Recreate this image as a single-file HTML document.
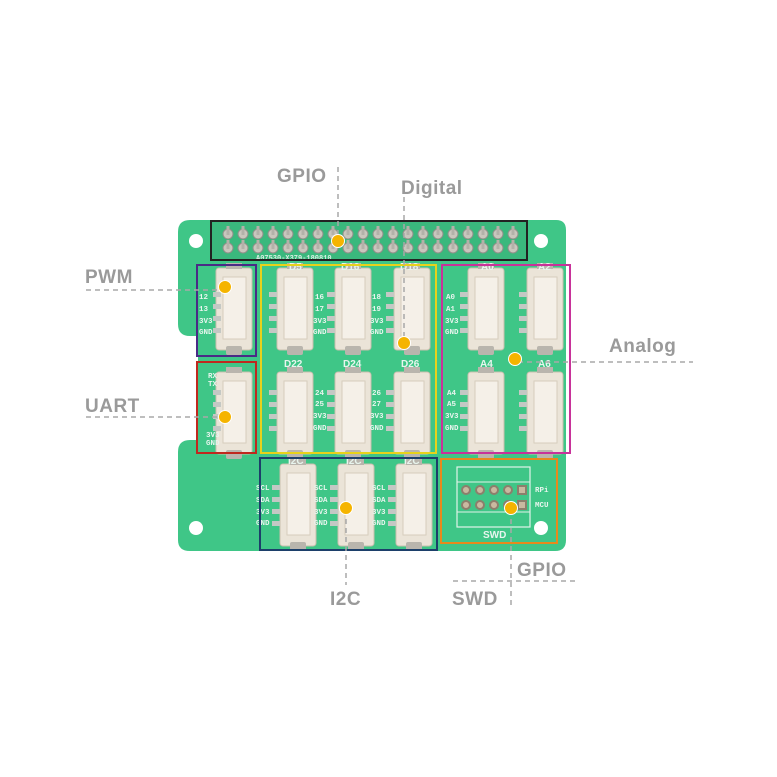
<!DOCTYPE html>
<html><head><meta charset="utf-8"><style>
html,body{margin:0;padding:0;background:#fff;}
svg{display:block}
.lb{font-family:"Liberation Sans",sans-serif;font-weight:bold;fill:#9a9a9a;font-size:19px;letter-spacing:0.5px}
.pt{font-family:"Liberation Mono",monospace;font-weight:bold;fill:#e8f5ee;font-size:7.5px}
.ct{font-family:"Liberation Sans",sans-serif;font-weight:bold;fill:#e8f5ee;font-size:10px}
.dl{stroke:#a8a8a8;stroke-width:1.5;stroke-dasharray:5,4;fill:none}
</style></head><body>
<svg width="777" height="777" viewBox="0 0 777 777">
<defs>
<g id="con">
<rect x="0" y="0" width="36" height="82" rx="3" fill="#ebe4d8" stroke="#c9bfae"/>
<rect x="7" y="9" width="23" height="62" fill="#f5f0e8" stroke="#d6cdbd"/>
<rect x="10" y="78" width="16" height="9" rx="2" fill="#b9b5ad"/>
<rect x="10" y="-5" width="16" height="6" fill="#b9b5ad"/>
</g>
<g id="pads">
<rect x="0" y="0" width="8" height="5" fill="#c4c8c4"/>
<rect x="0" y="12" width="8" height="5" fill="#c4c8c4"/>
<rect x="0" y="24" width="8" height="5" fill="#c4c8c4"/>
<rect x="0" y="36" width="8" height="5" fill="#c4c8c4"/>
</g>
<g id="pin"><circle cx="0" cy="0" r="5" fill="#c9c6bd" stroke="#8f8f88"/><rect x="-1.5" y="-8" width="3" height="9" fill="#b3b1a9"/></g>
</defs>
<path d="M190,220 H556 Q566,220 566,230 V540 Q566,551 555,551 H190 Q178,551 178,540 V452 Q178,440 190,440 H198 V336 H190 Q178,336 178,324 V232 Q178,220 190,220 Z" fill="#3fc687"/>
<g fill="#fff"><circle cx="196" cy="241" r="7"/><circle cx="541" cy="241" r="7"/><circle cx="196" cy="528" r="7"/><circle cx="541" cy="528" r="7"/></g>
<rect x="211" y="221" width="316" height="40" fill="#3ab87d"/>
<g>
<use href="#pin" x="228" y="234"/><use href="#pin" x="243" y="234"/><use href="#pin" x="258" y="234"/><use href="#pin" x="273" y="234"/><use href="#pin" x="288" y="234"/><use href="#pin" x="303" y="234"/><use href="#pin" x="318" y="234"/><use href="#pin" x="333" y="234"/><use href="#pin" x="348" y="234"/><use href="#pin" x="363" y="234"/><use href="#pin" x="378" y="234"/><use href="#pin" x="393" y="234"/><use href="#pin" x="408" y="234"/><use href="#pin" x="423" y="234"/><use href="#pin" x="438" y="234"/><use href="#pin" x="453" y="234"/><use href="#pin" x="468" y="234"/><use href="#pin" x="483" y="234"/><use href="#pin" x="498" y="234"/><use href="#pin" x="513" y="234"/>
<use href="#pin" x="228" y="248"/><use href="#pin" x="243" y="248"/><use href="#pin" x="258" y="248"/><use href="#pin" x="273" y="248"/><use href="#pin" x="288" y="248"/><use href="#pin" x="303" y="248"/><use href="#pin" x="318" y="248"/><use href="#pin" x="333" y="248"/><use href="#pin" x="348" y="248"/><use href="#pin" x="363" y="248"/><use href="#pin" x="378" y="248"/><use href="#pin" x="393" y="248"/><use href="#pin" x="408" y="248"/><use href="#pin" x="423" y="248"/><use href="#pin" x="438" y="248"/><use href="#pin" x="453" y="248"/><use href="#pin" x="468" y="248"/><use href="#pin" x="483" y="248"/><use href="#pin" x="498" y="248"/><use href="#pin" x="513" y="248"/>
</g>
<text x="256" y="260" class="pt" style="font-size:7px;fill:#d9efe3">A07530-X379-180810</text>
<g>
<use href="#con" x="216" y="268"/><use href="#con" x="277" y="268"/><use href="#con" x="335" y="268"/><use href="#con" x="394" y="268"/><use href="#con" x="468" y="268"/><use href="#con" x="527" y="268"/>
<use href="#con" x="216" y="372"/><use href="#con" x="277" y="372"/><use href="#con" x="335" y="372"/><use href="#con" x="394" y="372"/><use href="#con" x="468" y="372"/><use href="#con" x="527" y="372"/>
<use href="#con" x="280" y="464"/><use href="#con" x="338" y="464"/><use href="#con" x="396" y="464"/>
</g>
<g>
<use href="#pads" x="213" y="292"/><use href="#pads" x="269" y="292"/><use href="#pads" x="327" y="292"/><use href="#pads" x="386" y="292"/><use href="#pads" x="460" y="292"/><use href="#pads" x="519" y="292"/>
<use href="#pads" x="213" y="390"/><use href="#pads" x="269" y="390"/><use href="#pads" x="327" y="390"/><use href="#pads" x="386" y="390"/><use href="#pads" x="460" y="390"/><use href="#pads" x="519" y="390"/>
<use href="#pads" x="272" y="485"/><use href="#pads" x="330" y="485"/><use href="#pads" x="388" y="485"/>
</g>
<g class="ct">
<text x="289" y="270">D5</text><text x="341" y="270">D16</text><text x="400" y="270">D18</text><text x="481" y="270">A0</text><text x="538" y="270">A2</text>
<text x="284" y="367">D22</text><text x="343" y="367">D24</text><text x="401" y="367">D26</text><text x="480" y="367">A4</text><text x="538" y="367">A6</text>
<text x="288" y="464">I2C</text><text x="346" y="464">I2C</text><text x="404" y="464">I2C</text>
</g>
<g class="pt">
<text x="199" y="299">12</text><text x="199" y="311">13</text><text x="199" y="323">3V3</text><text x="199" y="334">GND</text>
<text x="315" y="299">16</text><text x="315" y="311">17</text><text x="313" y="323">3V3</text><text x="313" y="334">GND</text>
<text x="372" y="299">18</text><text x="372" y="311">19</text><text x="370" y="323">3V3</text><text x="370" y="334">GND</text>
<text x="446" y="299">A0</text><text x="446" y="311">A1</text><text x="445" y="323">3V3</text><text x="445" y="334">GND</text>
<text x="208" y="378">RX</text><text x="208" y="386">TX</text><text x="206" y="437">3V3</text><text x="206" y="445">GND</text>
<text x="315" y="395">24</text><text x="315" y="406">25</text><text x="313" y="418">3V3</text><text x="313" y="430">GND</text>
<text x="372" y="395">26</text><text x="372" y="406">27</text><text x="370" y="418">3V3</text><text x="370" y="430">GND</text>
<text x="447" y="395">A4</text><text x="447" y="406">A5</text><text x="445" y="418">3V3</text><text x="445" y="430">GND</text>
<text x="256" y="490">SCL</text><text x="256" y="502">SDA</text><text x="256" y="514">3V3</text><text x="256" y="525">GND</text>
<text x="314" y="490">SCL</text><text x="314" y="502">SDA</text><text x="314" y="514">3V3</text><text x="314" y="525">GND</text>
<text x="372" y="490">SCL</text><text x="372" y="502">SDA</text><text x="372" y="514">3V3</text><text x="372" y="525">GND</text>
</g>
<rect x="457" y="467" width="73" height="60" fill="none" stroke="#e0f3e8" stroke-width="1.2"/>
<line x1="457" y1="482" x2="530" y2="482" stroke="#e0f3e8"/><line x1="457" y1="512" x2="530" y2="512" stroke="#e0f3e8"/>
<g fill="#c9b9a0" stroke="#8c7f6c" stroke-width="2">
<circle cx="466" cy="490" r="4"/><circle cx="480" cy="490" r="4"/><circle cx="494" cy="490" r="4"/><circle cx="508" cy="490" r="4"/><rect x="518" y="486" width="8" height="8"/>
<circle cx="466" cy="505" r="4"/><circle cx="480" cy="505" r="4"/><circle cx="494" cy="505" r="4"/><circle cx="508" cy="505" r="4"/><rect x="518" y="501" width="8" height="8"/>
</g>
<text x="535" y="492" class="pt">RPi</text><text x="535" y="507" class="pt">MCU</text>
<text x="483" y="538" class="ct">SWD</text>
<g fill="none" stroke-width="2">
<rect x="211" y="221" width="316" height="39" stroke="#222"/>
<rect x="197" y="265" width="59" height="91" stroke="#4a2a86"/>
<rect x="197" y="362" width="59" height="91" stroke="#c0281e"/>
<rect x="261" y="265" width="175" height="188" stroke="#e8d21a"/>
<rect x="442" y="265" width="128" height="188" stroke="#c8329a"/>
<rect x="260" y="458" width="177" height="92" stroke="#1c3f6a"/>
<rect x="441" y="459" width="116" height="84" stroke="#e8891c"/>
</g>
<path class="dl" d="M338,167 V237"/>
<path class="dl" d="M404,197 V343"/>
<path class="dl" d="M86,290 H222"/>
<path class="dl" d="M86,417 H222"/>
<path class="dl" d="M518,362 H693"/>
<path class="dl" d="M346,510 V585"/>
<path class="dl" d="M511,510 V606"/>
<path class="dl" d="M453,581 H577"/>
<g fill="#f5b400" stroke="#fff" stroke-width="1">
<circle cx="338" cy="241" r="6.5"/><circle cx="225" cy="287" r="6.5"/><circle cx="404" cy="343" r="6.5"/><circle cx="515" cy="359" r="6.5"/><circle cx="225" cy="417" r="6.5"/><circle cx="346" cy="508" r="6.5"/><circle cx="511" cy="508" r="6.5"/>
</g>
<text x="277" y="182" class="lb">GPIO</text>
<text x="401" y="194" class="lb">Digital</text>
<text x="85" y="283" class="lb">PWM</text>
<text x="609" y="352" class="lb">Analog</text>
<text x="85" y="412" class="lb">UART</text>
<text x="330" y="605" class="lb">I2C</text>
<text x="517" y="576" class="lb">GPIO</text>
<text x="452" y="605" class="lb">SWD</text>
</svg>
</body></html>
